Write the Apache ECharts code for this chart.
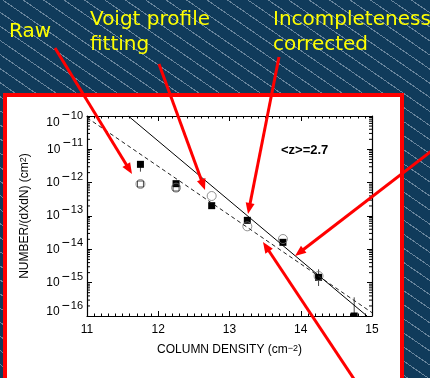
<!DOCTYPE html>
<html><head><meta charset="utf-8">
<script src="https://cdn.jsdelivr.net/npm/echarts@6/dist/echarts.min.js"></script>
<style>
html,body{margin:0;padding:0;width:430px;height:378px;overflow:hidden;}
#chart{width:430px;height:378px;background-color:#103b5b;
background-image:repeating-linear-gradient(34.6deg, rgba(255,255,255,0) 0px, rgba(255,255,255,0) 10.6px, rgba(190,205,220,0.5) 10.6px, rgba(190,205,220,0.5) 11.6px);}
</style></head><body><div id="chart"></div>
<script>
// log10 of column density bin centres
const logN = [11.75, 12.25, 12.75, 13.25, 13.75, 14.25, 14.75];
// incompleteness-corrected distribution, log10 f(N), with error range
const corrected = [-11.45, -12.03, -12.69, -13.13, -13.79, -14.84, -16.0];
const correctedLow = [-11.67, -12.08, -12.74, -13.18, -13.84, -15.10, -16.50];
const correctedHigh = [-11.40, -11.98, -12.64, -13.08, -13.74, -14.60, -15.44];
// Voigt profile fitting (open circles)
const voigtN = [11.75, 12.25, 12.75, 13.25, 13.75, 14.25];
const voigt = [-12.04, -12.15, -12.40, -13.31, -13.69, -14.80];
// raw counts (open squares)
const rawN = [11.75, 12.25];
const raw = [-12.04, -12.16];
// power-law fits
const fitSolidN = [11.58, 14.93];
const fitSolid = [-10.0, -16.0];
const fitDashedN = [11.0, 15.0];
const fitDashed = [-10.05, -15.9];
// axes
const xTicks = [11, 12, 13, 14, 15];
const yDecades = [-16, -15, -14, -13, -12, -11, -10];
const zLabel = '<z>=2.7';

const p10 = v => Math.pow(10, v);
const pairs = (xs, ys) => xs.map((x, i) => [x, p10(ys[i])]);

// log-spaced minor tick values between decades
const minorVals = [];
for (let d = yDecades[0]; d < yDecades[yDecades.length - 1]; d++) {
  for (let k = 2; k <= 9; k++) minorVals.push([xTicks[0], k * p10(d)]);
}

const FONT = '"Liberation Sans", Arial, sans-serif';
const txt = { fontFamily: FONT, color: '#000' };
const tok = (o) => Object.assign({}, txt, o);
// "10" with a raised exponent; the end labels sit just inside the frame
const labelRich = {
  b:  tok({ fontSize: 12, height: 12, lineHeight: 22, padding: [0, 0, 5, 0], verticalAlign: 'bottom' }),
  m:  tok({ fontSize: 14, height: 10, lineHeight: 10, padding: [0, 1, 0, 2], verticalAlign: 'top' }),
  e:  tok({ fontSize: 11, height: 10, lineHeight: 10, verticalAlign: 'top' }),
  bT: tok({ fontSize: 12, height: 12, lineHeight: 25, verticalAlign: 'bottom' }),
  mT: tok({ fontSize: 14, height: 10, lineHeight: 10, padding: [7, 1, 0, 2], verticalAlign: 'top' }),
  eT: tok({ fontSize: 11, height: 10, lineHeight: 10, padding: [7, 0, 0, 0], verticalAlign: 'top' }),
  bB: tok({ fontSize: 12, height: 12, lineHeight: 16, padding: [0, 0, 6, 0], verticalAlign: 'bottom' }),
  mB: tok({ fontSize: 14, height: 10, lineHeight: 10, padding: [0, 1, 13, 2], verticalAlign: 'bottom' }),
  eB: tok({ fontSize: 11, height: 10, lineHeight: 10, padding: [0, 0, 13, 0], verticalAlign: 'bottom' })
};
const supFmt = v => {
  const e = Math.round(Math.log10(v));
  const s = e === yDecades[yDecades.length - 1] ? 'T' : (e === yDecades[0] ? 'B' : '');
  return '{b' + s + '|10}' + (e < 0 ? '{m' + s + '|\u2212}' : '') + '{e' + s + '|' + Math.abs(e) + '}';
};

const chart = echarts.init(document.getElementById('chart'), null, { renderer: 'canvas' });

const axisLineStyle = { color: '#000', width: 1.2 };
const xAxisBase = {
  type: 'value', min: xTicks[0], max: xTicks[xTicks.length - 1], interval: 1,
  axisLine: { show: true, onZero: false, lineStyle: axisLineStyle },
  axisTick: { show: true, inside: true, length: 5, lineStyle: { color: '#000' } },
  minorTick: { show: true, splitNumber: 10, length: 2.5, lineStyle: { color: '#000' } },
  splitLine: { show: false }
};
const yAxisBase = {
  type: 'log', logBase: 10, min: p10(yDecades[0]), max: p10(yDecades[yDecades.length - 1]),
  splitNumber: 6,
  axisLine: { show: true, onZero: false, lineStyle: axisLineStyle },
  axisTick: { show: true, inside: true, length: 5, lineStyle: { color: '#000' } },
  splitLine: { show: false }
};

const arrows = [
  { from: [55, 48], to: [132, 174] },
  { from: [159, 64], to: [205, 190] },
  { from: [279, 57], to: [248, 214] },
  { from: [434, 149], to: [295, 256] },
  { from: [356, 382], to: [263, 242] }
];
function arrowGraphic(a) {
  const [sx, sy] = a.from, [tx, ty] = a.to;
  const dx = tx - sx, dy = ty - sy, L = Math.hypot(dx, dy);
  const ux = dx / L, uy = dy / L, nx = -uy, ny = ux;
  const hl = 11, hw = 4.5;
  const bx = tx - ux * hl, by = ty - uy * hl;
  return {
    type: 'group', z: 100, children: [
      { type: 'line', z: 100, shape: { x1: sx, y1: sy, x2: bx + ux * 2, y2: by + uy * 2 },
        style: { stroke: '#ff0000', lineWidth: 3 } },
      { type: 'polygon', z: 100, shape: { points: [[tx, ty], [bx + nx * hw, by + ny * hw], [bx - nx * hw, by - ny * hw]] },
        style: { fill: '#ff0000' } }
    ]
  };
}

const yellow = { fill: '#ffff00', fontFamily: '"DejaVu Sans", sans-serif', fontSize: 20 };
const supName = { s: { fontSize: 9, fontFamily: FONT, color: '#000', verticalAlign: 'top', lineHeight: 8 } };

chart.setOption({
  animation: false,
  backgroundColor: 'transparent',
  grid: { left: 87, right: 58, top: 116, bottom: 62, outerBoundsMode: 'none' },
  xAxis: [
    Object.assign({}, xAxisBase, {
      position: 'bottom',
      axisLabel: { show: true, fontSize: 12, fontFamily: FONT, color: '#000', margin: 8 },
      name: 'COLUMN DENSITY (cm{s|\u22122})', nameLocation: 'middle', nameGap: 28,
      nameTextStyle: { fontSize: 12, fontFamily: FONT, color: '#000', rich: supName }
    }),
    Object.assign({}, xAxisBase, { position: 'top', axisLabel: { show: false } })
  ],
  yAxis: [
    Object.assign({}, yAxisBase, {
      position: 'left',
      axisLabel: { show: true, formatter: supFmt, rich: labelRich, margin: 4,
        showMinLabel: true, showMaxLabel: true, hideOverlap: false },
      name: 'NUMBER/(dXdN) (cm{s|2})', nameLocation: 'middle', nameGap: 56, nameRotate: 90,
      nameTextStyle: { fontSize: 12, fontFamily: FONT, color: '#000', rich: supName }
    }),
    Object.assign({}, yAxisBase, { position: 'right', axisLabel: { show: false } })
  ],
  graphic: [
    { type: 'rect', z: -10, shape: { x: 5, y: 95, width: 397, height: 300 },
      style: { fill: '#ffffff', stroke: '#ff0000', lineWidth: 4 } },
    { type: 'text', z: 50, left: 9, top: 22, style: Object.assign({ text: 'Raw' }, yellow) },
    { type: 'text', z: 50, left: 90, top: 7, style: Object.assign({ text: 'Voigt profile\nfitting', lineHeight: 25 }, yellow) },
    { type: 'text', z: 50, left: 273, top: 7, style: Object.assign({ text: 'Incompleteness\ncorrected', lineHeight: 25 }, yellow) },
    { type: 'text', z: 50, left: 281, top: 144,
      style: { text: zLabel, fill: '#000', fontFamily: FONT, fontSize: 13, fontWeight: 'bold' } }
  ].concat(arrows.map(arrowGraphic)),
  series: [
    { type: 'line', data: pairs(fitSolidN, fitSolid), showSymbol: false, clip: true,
      lineStyle: { color: '#000', width: 1 }, silent: true },
    { type: 'line', data: pairs(fitDashedN, fitDashed), showSymbol: false, clip: true,
      lineStyle: { color: '#222', width: 1, type: [4, 3] }, silent: true },
    { type: 'scatter', data: pairs(voigtN, voigt), symbol: 'circle', symbolSize: 9,
      itemStyle: { color: 'rgba(0,0,0,0)', borderColor: '#777', borderWidth: 1 } },
    { type: 'scatter', data: pairs(rawN, raw), symbol: 'rect', symbolSize: 6,
      itemStyle: { color: 'rgba(0,0,0,0)', borderColor: '#222', borderWidth: 1 } },
    { type: 'custom', clip: true,
      data: logN.map((x, i) => [x, p10(corrected[i]), p10(correctedLow[i]), p10(correctedHigh[i])]),
      renderItem: (params, api) => {
        const c = api.coord([api.value(0), api.value(1)]);
        const lo = api.coord([api.value(0), api.value(2)]);
        const hi = api.coord([api.value(0), api.value(3)]);
        const s = 7;
        return { type: 'group', children: [
          { type: 'line', shape: { x1: lo[0], y1: lo[1], x2: hi[0], y2: hi[1] }, style: { stroke: '#444', lineWidth: 1 } },
          { type: 'rect', shape: { x: c[0] - s / 2, y: c[1] - s / 2, width: s, height: s }, style: { fill: '#000' } }
        ] };
      } },
    { type: 'custom', silent: true, data: minorVals,
      renderItem: (params, api) => {
        const y = api.coord([xTicks[0], api.value(1)])[1];
        const x0 = api.coord([xTicks[0], api.value(1)])[0];
        const x1 = api.coord([xTicks[xTicks.length - 1], api.value(1)])[0];
        return { type: 'group', children: [
          { type: 'line', shape: { x1: x0, y1: y, x2: x0 + 3, y2: y }, style: { stroke: '#000', lineWidth: 1 } },
          { type: 'line', shape: { x1: x1 - 3, y1: y, x2: x1, y2: y }, style: { stroke: '#000', lineWidth: 1 } }
        ] };
      } }
  ]
});
</script></body></html>
